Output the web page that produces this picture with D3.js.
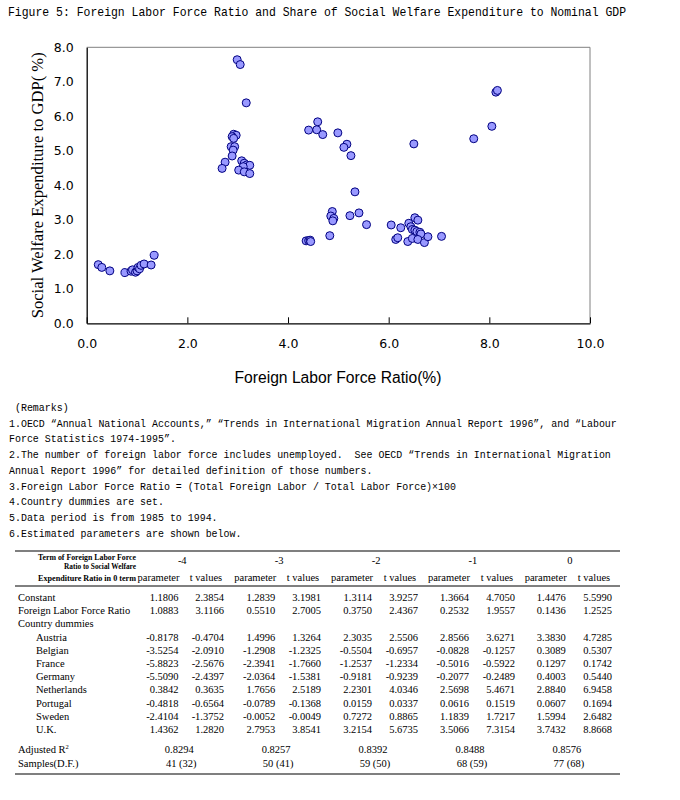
<!DOCTYPE html>
<html><head><meta charset="utf-8">
<script src="https://cdn.jsdelivr.net/npm/d3@7"></script>
<style>body{margin:0;background:#fff}svg{display:block}</style>
</head><body><svg id="c" width="680" height="800"></svg>
<script>
const titleText = "Figure 5: Foreign Labor Force Ratio and Share of Social Welfare Expenditure to Nominal GDP";
const xAxisTitle = "Foreign Labor Force Ratio(%)";
const yAxisTitle = "Social Welfare Expenditure to GDP( %)";
const xTickValues = [0, 2, 4, 6, 8, 10];
const yTickValues = [0, 1, 2, 3, 4, 5, 6, 7, 8];

// scatter points: foreign labor force ratio (x) and welfare share (y)
const foreignLaborRatio = [
  0.23, 0.30, 0.46, 0.76, 0.88, 0.91, 0.97, 1.00, 1.02, 1.05, 1.08, 1.14, 1.28, 1.34,
  2.99, 3.05, 3.17, 2.92, 2.97, 2.89, 2.92, 2.87, 2.94, 2.91, 2.89, 2.75, 2.69, 3.08, 3.13, 3.18, 3.24, 3.11, 3.02, 3.13, 3.24,
  4.41, 4.59, 4.57, 4.69, 4.99, 5.17, 5.11, 5.25, 5.33,
  4.36, 4.41, 4.44, 4.45, 4.83, 4.88, 4.85, 4.91, 4.89, 5.23, 5.41, 5.56,
  6.05, 6.24, 6.14, 6.18, 6.38, 6.40, 6.44, 6.47, 6.52, 6.58, 6.52, 6.56, 6.62, 6.64, 6.47, 6.58, 6.71, 6.78, 7.05, 6.50,
  7.69, 8.05, 8.13, 8.16
];
const welfareShare = [
  1.70, 1.62, 1.52, 1.47, 1.51, 1.55, 1.48, 1.52, 1.62, 1.58, 1.68, 1.72, 1.69, 1.97,
  7.64, 7.50, 6.39, 5.48, 5.45, 5.41, 5.36, 5.12, 5.12, 5.02, 4.85, 4.67, 4.49, 4.71, 4.64, 4.59, 4.58, 4.54, 4.44, 4.39, 4.34,
  5.60, 5.84, 5.61, 5.47, 5.52, 5.19, 5.10, 4.86, 3.81,
  2.39, 2.40, 2.41, 2.37, 2.54, 3.24, 3.11, 3.04, 2.97, 3.12, 3.20, 2.86,
  2.85, 2.77, 2.43, 2.48, 2.37, 2.90, 2.80, 2.72, 3.06, 2.99, 2.70, 2.66, 2.64, 2.59, 2.46, 2.43, 2.34, 2.51, 2.52, 5.20,
  5.35, 5.71, 6.70, 6.75
];

const remarks = [
  " (Remarks)",
  "1.OECD \u201cAnnual National Accounts,\u201d \u201cTrends in International Migration Annual Report 1996\u201d, and \u201cLabour",
  "Force Statistics 1974-1995\u201d.",
  "2.The number of foreign labor force includes unemployed.  See OECD \u201cTrends in International Migration",
  "Annual Report 1996\u201d for detailed definition of those numbers.",
  "3.Foreign Labor Force Ratio = (Total Foreign Labor / Total Labor Force)\u00d7100",
  "4.Country dummies are set.",
  "5.Data period is from 1985 to 1994.",
  "6.Estimated parameters are shown below."
];

const headerLines = ["Term of Foreign Labor Force", "Ratio to Social Welfare", "Expenditure Ratio in 0 term"];
const lagTerms = ["-4", "-3", "-2", "-1", "0"];
const subHeaders = ["parameter", "t values"];
const rowLabels = ["Constant", "Foreign Labor Force Ratio", "Country dummies", "Austria", "Belgian", "France", "Germany", "Netherlands", "Portugal", "Sweden", "U.K."];
const rowIndent = [0, 0, 0, 1, 1, 1, 1, 1, 1, 1, 1];
const rowConstant = ["1.1806","2.3854","1.2839","3.1981","1.3114","3.9257","1.3664","4.7050","1.4476","5.5990"];
const rowForeign = ["1.0883","3.1166","0.5510","2.7005","0.3750","2.4367","0.2532","1.9557","0.1436","1.2525"];
const rowDummies = [];
const rowAustria = ["-0.8178","-0.4704","1.4996","1.3264","2.3035","2.5506","2.8566","3.6271","3.3830","4.7285"];
const rowBelgian = ["-3.5254","-2.0910","-1.2908","-1.2325","-0.5504","-0.6957","-0.0828","-0.1257","0.3089","0.5307"];
const rowFrance = ["-5.8823","-2.5676","-2.3941","-1.7660","-1.2537","-1.2334","-0.5016","-0.5922","0.1297","0.1742"];
const rowGermany = ["-5.5090","-2.4397","-2.0364","-1.5381","-0.9181","-0.9239","-0.2077","-0.2489","0.4003","0.5440"];
const rowNetherlands = ["0.3842","0.3635","1.7656","2.5189","2.2301","4.0346","2.5698","5.4671","2.8840","6.9458"];
const rowPortugal = ["-0.4818","-0.6564","-0.0789","-0.1368","0.0159","0.0337","0.0616","0.1519","0.0607","0.1694"];
const rowSweden = ["-2.4104","-1.3752","-0.0052","-0.0049","0.7272","0.8865","1.1839","1.7217","1.5994","2.6482"];
const rowUK = ["1.4362","1.2820","2.7953","3.8541","3.2154","5.6735","3.5066","7.3154","3.7432","8.8668"];
const adjustedR2 = ["0.8294","0.8257","0.8392","0.8488","0.8576"];
const samplesDF = ["41 (32)","50 (41)","59 (50)","68 (59)","77 (68)"];

const tableRows = [rowConstant, rowForeign, rowDummies, rowAustria, rowBelgian, rowFrance, rowGermany, rowNetherlands, rowPortugal, rowSweden, rowUK];

const svg = d3.select("#c");

// Title
svg.append("text").attr("transform", "translate(8,16) scale(1,1.18)")
  .attr("font-family", "Liberation Mono, monospace").attr("font-size", 11.45)
  .attr("xml:space", "preserve")
  .text(titleText);

// Chart
const x = d3.scaleLinear().domain([0, 10]).range([86.7, 590]);
const y = d3.scaleLinear().domain([0, 8]).range([323.3, 47.3]);

svg.append("path")
  .attr("d", `M${x(0)},${y(8)}H${x(10)}V${y(0)}`)
  .attr("fill", "none").attr("stroke", "#808080").attr("stroke-width", 1);

const xAxis = svg.append("g").attr("transform", `translate(0,${y(0)})`)
  .call(d3.axisBottom(x).tickValues(xTickValues).tickFormat(d3.format(".1f")).tickSizeInner(-6).tickSizeOuter(0).tickPadding(16));
const yAxis = svg.append("g").attr("transform", `translate(${x(0)},0)`)
  .call(d3.axisLeft(y).tickValues(yTickValues).tickFormat(d3.format(".1f")).tickSize(0).tickPadding(13));
[xAxis, yAxis].forEach(g => {
  g.selectAll("path.domain").attr("stroke", "#000").attr("stroke-width", 1.3);
  g.selectAll("line").attr("stroke", "#000");
  g.selectAll("text").attr("font-family", "DejaVu Sans, sans-serif").attr("font-size", 12.5).attr("fill", "#000");
});

svg.append("g").selectAll("circle")
  .data(foreignLaborRatio.map((v, i) => [v, welfareShare[i]]))
  .join("circle")
  .attr("cx", d => x(d[0])).attr("cy", d => y(d[1])).attr("r", 4)
  .attr("fill", "#9999ff").attr("stroke", "#000080").attr("stroke-width", 1);

svg.append("text")
  .attr("transform", `translate(43,${(y(0) + y(8)) / 2}) rotate(-90)`)
  .attr("text-anchor", "middle")
  .attr("font-family", "Liberation Serif, serif").attr("font-size", 16.5)
  .attr("textLength", 266).attr("lengthAdjust", "spacingAndGlyphs")
  .text(yAxisTitle);

svg.append("text")
  .attr("x", 338).attr("y", 383).attr("text-anchor", "middle")
  .attr("font-family", "Liberation Sans, sans-serif").attr("font-size", 16)
  .attr("textLength", 207).attr("lengthAdjust", "spacingAndGlyphs")
  .text(xAxisTitle);

// Remarks
const remarkY0 = 411, remarkStep = 15.7;
svg.append("g").selectAll("text").data(remarks).join("text")
  .attr("transform", (d, i) => `translate(9,${remarkY0 + i * remarkStep}) scale(1,1.18)`)
  .attr("font-family", "Liberation Mono, monospace").attr("font-size", 9.93)
  .attr("xml:space", "preserve")
  .text(d => d);

// Table
const tbl = svg.append("g").attr("font-family", "Liberation Serif, serif").attr("font-size", 10.5).attr("fill", "#000");
const tLeft = 15, tRight = 620;
[551, 586, 774].forEach(yy => {
  tbl.append("line").attr("x1", tLeft).attr("x2", tRight).attr("y1", yy).attr("y2", yy)
    .attr("stroke", "#000").attr("stroke-width", yy === 586 ? 1 : 1.2);
});

const paramCenter = k => 158.5 + 96.8 * k;
const tvalCenter = k => 206 + 97 * k;
const groupCenter = k => (paramCenter(k) + tvalCenter(k)) / 2;

headerLines.forEach((h, i) => {
  tbl.append("text").attr("x", 136).attr("y", [560, 569, 581][i]).attr("text-anchor", "end")
    .attr("font-size", 7.5).attr("font-weight", "bold")
    .attr("textLength", i === 1 ? 72 : 98).attr("lengthAdjust", "spacingAndGlyphs")
    .text(h);
});
lagTerms.forEach((t, k) => {
  tbl.append("text").attr("x", groupCenter(k)).attr("y", 564).attr("text-anchor", "middle").text(t);
  tbl.append("text").attr("x", paramCenter(k)).attr("y", 581).attr("text-anchor", "middle").text(subHeaders[0]);
  tbl.append("text").attr("x", tvalCenter(k)).attr("y", 581).attr("text-anchor", "middle").text(subHeaders[1]);
});

const rowY = i => 601 + i * 13.2;
rowLabels.forEach((lab, i) => {
  tbl.append("text").attr("x", 18 + rowIndent[i] * 18).attr("y", rowY(i)).text(lab);
  tableRows[i].forEach((v, j) => {
    const k = Math.floor(j / 2);
    const xr = j % 2 === 0 ? paramCenter(k) + 20 : tvalCenter(k) + 18;
    tbl.append("text").attr("x", xr).attr("y", rowY(i)).attr("text-anchor", "end").text(v);
  });
});

const adjT = tbl.append("text").attr("x", 18).attr("y", 753);
adjT.append("tspan").text("Adjusted R");
adjT.append("tspan").attr("dy", -4).attr("font-size", 6.5).text("2");
tbl.append("text").attr("x", 18).attr("y", 767).text("Samples(D.F.)");
adjustedR2.forEach((v, k) => {
  tbl.append("text").attr("x", groupCenter(k) - 3).attr("y", 753).attr("text-anchor", "middle").text(v);
});
samplesDF.forEach((v, k) => {
  tbl.append("text").attr("x", groupCenter(k) - 1).attr("y", 767).attr("text-anchor", "middle").text(v);
});
</script></body></html>
